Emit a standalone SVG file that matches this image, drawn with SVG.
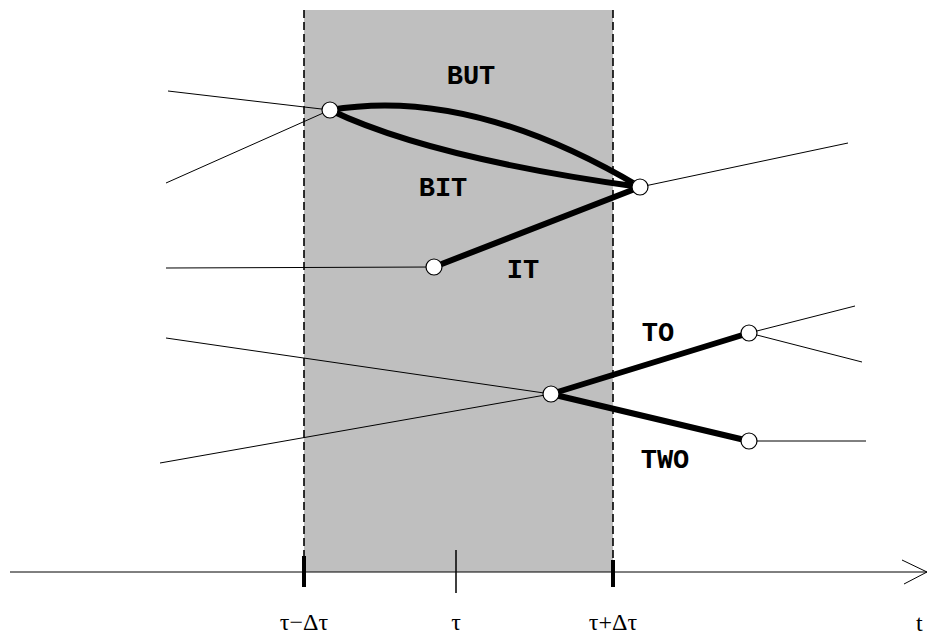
<svg xmlns="http://www.w3.org/2000/svg" width="928" height="637" viewBox="0 0 928 637">
  <style>
    .thin { stroke: #000; stroke-width: 1; fill: none; }
    .thick { stroke: #000; stroke-width: 6; fill: none; stroke-linecap: round; }
    .dash { stroke: #000; stroke-width: 1.6; stroke-dasharray: 8 4; fill: none; }
    .node circle { fill: #fff; stroke: #000; stroke-width: 1.2; }
    .word { font-family: "Liberation Mono", "Courier New", monospace; font-weight: bold; font-size: 27px; fill: #000; }
    .tick { font-family: "Liberation Serif", "Times New Roman", serif; font-size: 24px; fill: #000; }
  </style>

  <!-- time window band -->
  <rect x="304" y="10" width="309" height="562" fill="#bfbfbf"/>
  <line class="dash" x1="304" y1="10" x2="304" y2="572"/>
  <line class="dash" x1="613" y1="10" x2="613" y2="572"/>

  <!-- time axis -->
  <g id="axis">
    <line class="thin" x1="10" y1="572" x2="927" y2="572" stroke-width="1.5"/>
    <polyline class="thin" points="902,560 927,572 904,584" stroke-width="1.5"/>
    <line x1="304" y1="556" x2="304" y2="587" stroke="#000" stroke-width="4"/>
    <line x1="456" y1="550" x2="456" y2="593" stroke="#000" stroke-width="1.5"/>
    <line x1="613" y1="560" x2="613" y2="587" stroke="#000" stroke-width="4"/>
    <text class="tick" x="304" y="630" text-anchor="middle">τ−Δτ</text>
    <text class="tick" x="456" y="630" text-anchor="middle">τ</text>
    <text class="tick" x="613" y="630" text-anchor="middle">τ+Δτ</text>
    <text class="tick" x="916" y="631">t</text>
  </g>

  <g id="connectors">
    <!-- incoming / outgoing thin paths -->
    <line class="thin" x1="168" y1="91" x2="330" y2="110"/>
    <line class="thin" x1="166" y1="183" x2="330" y2="110"/>
    <line class="thin" x1="640" y1="187" x2="848" y2="143"/>
    <line class="thin" x1="166" y1="268" x2="434" y2="267"/>
    <line class="thin" x1="166" y1="338" x2="551" y2="394"/>
    <line class="thin" x1="160" y1="463" x2="551" y2="394"/>
    <line class="thin" x1="749" y1="333" x2="855" y2="306"/>
    <line class="thin" x1="749" y1="333" x2="862" y2="362"/>
    <line class="thin" x1="749" y1="441" x2="866" y2="441"/>
    <!-- word hypotheses -->
    <path class="thick" d="M330,110 Q470,86 640,187"/>
    <path class="thick" d="M330,110 Q430,158 640,187"/>
    <line class="thick" x1="434" y1="267" x2="640" y2="187"/>
    <line class="thick" x1="551" y1="394" x2="749" y2="333"/>
    <line class="thick" x1="551" y1="394" x2="749" y2="441"/>
  </g>

  <text class="word" x="471" y="84" text-anchor="middle">BUT</text>
  <text class="word" x="443" y="196" text-anchor="middle">BIT</text>
  <text class="word" x="523" y="278" text-anchor="middle">IT</text>
  <text class="word" x="658" y="341" text-anchor="middle">TO</text>
  <text class="word" x="665" y="468" text-anchor="middle">TWO</text>

  <g id="nA" class="node"><circle cx="330" cy="110" r="8"/></g>
  <g id="nB" class="node"><circle cx="640" cy="187" r="8"/></g>
  <g id="nC" class="node"><circle cx="434" cy="267" r="8"/></g>
  <g id="nD" class="node"><circle cx="551" cy="394" r="8"/></g>
  <g id="nE" class="node"><circle cx="749" cy="333" r="8"/></g>
  <g id="nF" class="node"><circle cx="749" cy="441" r="8"/></g>
</svg>
